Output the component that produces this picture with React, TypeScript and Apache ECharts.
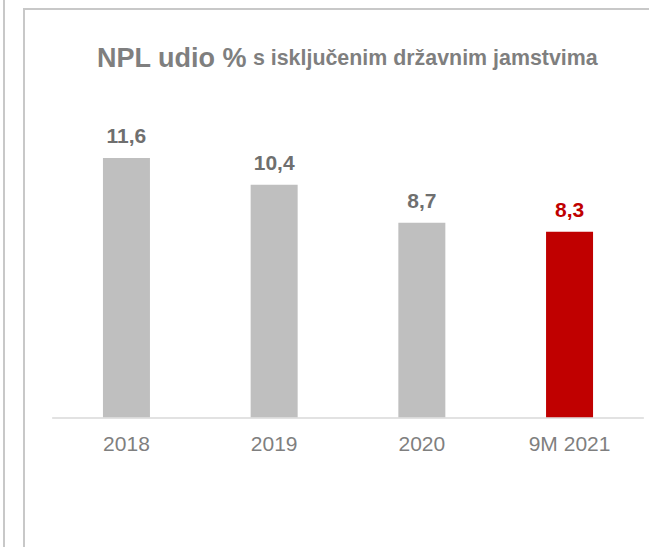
import React, { useEffect, useRef } from "react";
import * as echarts from "echarts";

const categories = ["2018", "2019", "2020", "9M 2021"];
const nplValues = [11.6, 10.4, 8.7, 8.3];
const highlightCategory = "9M 2021";
const titleMain = "NPL udio %";
const titleSub = "s isključenim državnim jamstvima";

const FONT = "'Liberation Sans', Arial, Helvetica, sans-serif";
const GREY_BAR = "#bfbfbf";
const RED = "#c00000";
const LABEL_GREY = "#6f6f6f";
const BORDER = "#c8c8c8";

export default function App() {
  const ref = useRef<HTMLDivElement>(null);

  useEffect(() => {
    if (!ref.current) return;
    const chart = echarts.init(ref.current, undefined, { renderer: "svg" });
    const data = nplValues.map((v, i) => {
      const hi = categories[i] === highlightCategory;
      return {
        value: v,
        itemStyle: { color: hi ? RED : GREY_BAR },
        label: { color: hi ? RED : LABEL_GREY },
      };
    });
    chart.setOption({
      animation: false,
      backgroundColor: "#ffffff",
      title: {
        text: `{a|${titleMain}}{b| ${titleSub}}`,
        left: 97,
        top: 43,
        padding: 0,
        textStyle: {
          rich: {
            a: { fontFamily: FONT, fontSize: 27, fontWeight: "bold", color: "#7f7f7f", lineHeight: 30 },
            b: { fontFamily: FONT, fontSize: 21.4, fontWeight: "bold", color: "#7f7f7f", lineHeight: 30 },
          },
        },
      },
      graphic: [
        { type: "line", shape: { x1: 4, y1: 0, x2: 4, y2: 547 }, style: { stroke: BORDER, lineWidth: 2 } },
        { type: "line", shape: { x1: 24, y1: 9, x2: 24, y2: 547 }, style: { stroke: BORDER, lineWidth: 2 } },
        { type: "line", shape: { x1: 23, y1: 9, x2: 649, y2: 9 }, style: { stroke: BORDER, lineWidth: 2 } },
      ],
      grid: { left: 52.6, right: 5.6, top: 149, bottom: 129.7, containLabel: false },
      xAxis: {
        type: "category",
        data: categories,
        axisLine: { show: true, lineStyle: { color: "#d9d9d9", width: 1.5 } },
        axisTick: { show: false },
        axisLabel: { color: "#7f7f7f", fontFamily: FONT, fontSize: 21, margin: 16 },
      },
      yAxis: {
        type: "value",
        min: 0,
        max: 12,
        show: false,
        splitLine: { show: false },
      },
      series: [
        {
          type: "bar",
          data,
          barWidth: 47,
          label: {
            show: true,
            position: "top",
            distance: 12,
            fontFamily: FONT,
            fontSize: 21,
            fontWeight: "bold",
            formatter: (p: any) => Number(p.value).toFixed(1).replace(".", ","),
          },
        },
      ],
    });
    return () => chart.dispose();
  }, []);

  return (
    <div
      ref={ref}
      style={{ position: "fixed", left: 0, top: 0, width: 649, height: 547, background: "#fff" }}
    />
  );
}
